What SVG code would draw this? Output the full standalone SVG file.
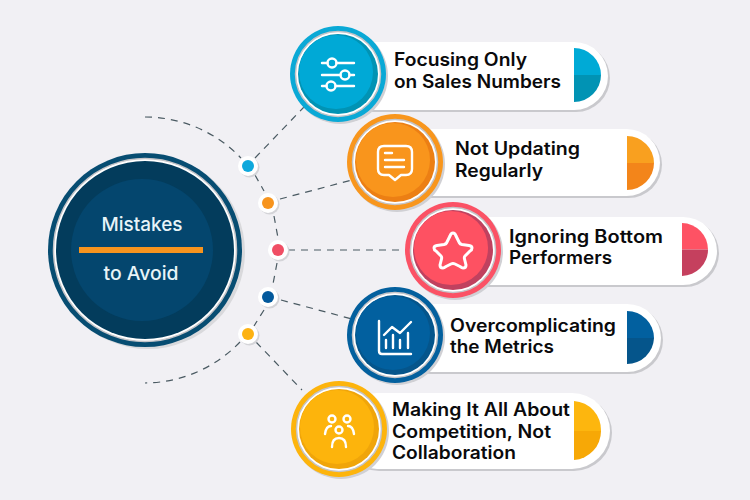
<svg xmlns="http://www.w3.org/2000/svg" width="750" height="500" viewBox="0 0 750 500">
<style>
.bg{fill:#f1f0f4}
.sh{fill:#c9c9cd}
.pill{fill:#fff}
.ring{fill:#fff;stroke:#c4c4c8;stroke-width:1.500}
.t{font-family:Inter,"Liberation Sans",sans-serif;font-weight:600;font-size:18px;fill:#0a0a0c}
.c{font-family:Inter,"Liberation Sans",sans-serif;font-weight:500;font-size:19px;fill:#e8f4f8;text-anchor:middle}
.d{fill:none;stroke:#4a5a62;stroke-width:1.200;stroke-dasharray:7 6}
.i{fill:none;stroke:#fff;stroke-width:2.400;stroke-linecap:round;stroke-linejoin:round}
.dot{fill:#fff}
.dsh{fill:#d4d4d8}
</style>
<rect class="bg" width="750" height="500"/>
<g id="connectors">
<path class="d" d="M145 117A133 133 0 0 1 241 158"/>
<path class="d" d="M255 175L264 191"/>
<path class="d" d="M274 216L278 238"/>
<path class="d" d="M277 263L273 284"/>
<path class="d" d="M264 310L254 326"/>
<path class="d" d="M240 342A133 133 0 0 1 145 383"/>
<path class="d" d="M255 158L304 107"/>
<path class="d" d="M280 199L352 180"/>
<path class="d" d="M288 250L407 250"/>
<path class="d" d="M281 300L352 319"/>
<path class="d" d="M256 342L302 390"/>
<circle class="dsh" cx="249.500" cy="167.500" r="10"/><circle class="dot" cx="248" cy="166" r="10"/><circle cx="248" cy="166" r="6" fill="#0ea8dc"/>
<circle class="dsh" cx="269.500" cy="204.500" r="10"/><circle class="dot" cx="268" cy="203" r="10"/><circle cx="268" cy="203" r="6" fill="#f7941e"/>
<circle class="dsh" cx="279.500" cy="251.500" r="10"/><circle class="dot" cx="278" cy="250" r="10"/><circle cx="278" cy="250" r="6" fill="#f04e64"/>
<circle class="dsh" cx="269.500" cy="298.500" r="10"/><circle class="dot" cx="268" cy="297" r="10"/><circle cx="268" cy="297" r="6" fill="#03599c"/>
<circle class="dsh" cx="249.500" cy="335.500" r="10"/><circle class="dot" cx="248" cy="334" r="10"/><circle cx="248" cy="334" r="6" fill="#fdb212"/>
</g>
<g id="center">
<circle cx="148" cy="252" r="97" fill="#d9d9dc"/>
<circle cx="145" cy="250" r="97" fill="#074d72"/>
<circle cx="145" cy="250" r="91.500" fill="#fff" stroke="#c4c4c8" stroke-width="1.500"/>
<circle cx="145" cy="250" r="89" fill="#033c5c"/>
<circle cx="142" cy="250" r="71" fill="#04466e"/>
<rect x="79" y="247" width="124" height="6" fill="#f7941e"/>
<text class="c" x="142" y="231" textLength="81" lengthAdjust="spacingAndGlyphs">Mistakes</text>
<text class="c" x="141" y="280" textLength="75" lengthAdjust="spacingAndGlyphs">to Avoid</text>
</g>
<g id="node-1">
<rect class="sh" x="340" y="44" width="270" height="68" rx="34"/>
<rect class="pill" x="338" y="42" width="270" height="68" rx="34"/>
<path d="M574 48A27 27 0 0 1 601 75H574Z" fill="#00aad6"/>
<path d="M574 102A27 27 0 0 0 601 75H574Z" fill="#0193b4"/>
<circle cx="340" cy="76" r="48" fill="#d0d0d4"/>
<circle cx="338" cy="74" r="48" fill="#0aa9d6"/>
<circle class="ring" cx="338" cy="74" r="42.500"/>
<circle cx="338" cy="74" r="40" fill="#0193b4"/>
<circle cx="336" cy="72" r="37" fill="#00a9d6"/>
<path class="i" d="M322 63H327.500M336.500 63H354M322 75H340.500M349.500 75H354M322 86H326.500M335.500 86H354"/>
<circle class="i" cx="332" cy="63" r="4.500"/><circle class="i" cx="345" cy="75" r="4.500"/><circle class="i" cx="331" cy="86" r="4.500"/>
<text class="t" x="394" y="66" textLength="133" lengthAdjust="spacingAndGlyphs">Focusing Only</text>
<text class="t" x="394" y="88" textLength="167" lengthAdjust="spacingAndGlyphs">on Sales Numbers</text>
</g>
<g id="node-2">
<rect class="sh" x="397" y="131" width="265" height="67" rx="33.500"/>
<rect class="pill" x="395" y="129" width="265" height="67" rx="33.500"/>
<path d="M627 136A27 27 0 0 1 654 163H627Z" fill="#f9a01f"/>
<path d="M627 190A27 27 0 0 0 654 163H627Z" fill="#f3851a"/>
<circle cx="397" cy="164" r="48" fill="#d0d0d4"/>
<circle cx="395" cy="162" r="48" fill="#f8961d"/>
<circle class="ring" cx="395" cy="162" r="42.500"/>
<circle cx="395" cy="162" r="40" fill="#ec7f14"/>
<circle cx="393" cy="160" r="37" fill="#f9951c"/>
<path class="i" d="M384 146H406Q412 146 412 152V169Q412 175 406 175H401L395 180L389 175H384Q378 175 378 169V152Q378 146 384 146Z"/>
<path class="i" d="M385 153H392M385 160H404M385 167H404"/>
<text class="t" x="455" y="155" textLength="125" lengthAdjust="spacingAndGlyphs">Not Updating</text>
<text class="t" x="455" y="177" textLength="88" lengthAdjust="spacingAndGlyphs">Regularly</text>
</g>
<g id="node-3">
<rect class="sh" x="455" y="219" width="264" height="68" rx="34"/>
<rect class="pill" x="453" y="217" width="264" height="68" rx="34"/>
<path d="M682 223A26.500 26.500 0 0 1 708 249.500H682Z" fill="#fe5264"/>
<path d="M682 276A26.500 26.500 0 0 0 708 249.500H682Z" fill="#c5405e"/>
<circle cx="455" cy="252" r="48" fill="#d0d0d4"/>
<circle cx="453" cy="250" r="48" fill="#fb5265"/>
<circle class="ring" cx="453" cy="250" r="42.500"/>
<circle cx="453" cy="250" r="40" fill="#c0415f"/>
<circle cx="451" cy="248" r="37" fill="#fe5162"/>
<path class="i" style="stroke-width:3" d="M453 233Q455 233 456 236L459.500 243Q460 244 462 244.500L469 245.500Q472 246 472 248Q472 250 470 251L465 256Q464 257 464.500 259L466 265Q466 268 463 268Q462 268 460 266.500L455 264Q453 263 451 264L446 266.500Q444 268 443 268Q440 268 440 265L441.500 259Q442 257 441 256L436 251Q434 250 434 248Q434 246 437 245.500L444 244.500Q446 244 446.500 243L450 236Q451 233 453 233Z"/>
<text class="t" x="509" y="243" textLength="154" lengthAdjust="spacingAndGlyphs">Ignoring Bottom</text>
<text class="t" x="509" y="264" textLength="103" lengthAdjust="spacingAndGlyphs">Performers</text>
</g>
<g id="node-4">
<rect class="sh" x="397" y="306" width="266" height="68" rx="34"/>
<rect class="pill" x="395" y="304" width="266" height="68" rx="34"/>
<path d="M627 311A27 27 0 0 1 654 338H627Z" fill="#02609f"/>
<path d="M627 364A27 27 0 0 0 654 338H627Z" fill="#05558b"/>
<circle cx="397" cy="337" r="48" fill="#d0d0d4"/>
<circle cx="395" cy="335" r="48" fill="#03609e"/>
<circle class="ring" cx="395" cy="335" r="42.500"/>
<circle cx="395" cy="335" r="40" fill="#05558b"/>
<circle cx="393" cy="333" r="37" fill="#02609f"/>
<path class="i" d="M379 321V351Q379 354 382 354H411"/>
<path class="i" d="M384 335L392 327L400 333L411 322M386 348V340M393 348V335M400 348V340M408 348V333"/>
<text class="t" x="450" y="332" textLength="166" lengthAdjust="spacingAndGlyphs">Overcomplicating</text>
<text class="t" x="450" y="353" textLength="104" lengthAdjust="spacingAndGlyphs">the Metrics</text>
</g>
<g id="node-5">
<rect class="sh" x="341" y="395" width="271" height="76" rx="38"/>
<rect class="pill" x="339" y="393" width="271" height="76" rx="38"/>
<path d="M574 401A29 29 0 0 1 601 431H574Z" fill="#fdb60e"/>
<path d="M574 460A29 29 0 0 0 601 431H574Z" fill="#f7a806"/>
<circle cx="341" cy="431" r="48" fill="#d0d0d4"/>
<circle cx="339" cy="429" r="48" fill="#fdb40c"/>
<circle class="ring" cx="339" cy="429" r="42.500"/>
<circle cx="339" cy="429" r="40" fill="#f0a50a"/>
<circle cx="337" cy="427" r="37" fill="#fdb40c"/>
<circle class="i" cx="332" cy="419" r="3.500"/><circle class="i" cx="347" cy="419" r="3.500"/><circle class="i" cx="339" cy="430" r="3.500"/>
<path class="i" d="M325 434Q326 426 331 426M354 434Q353 426 348 426M332 447Q332 438 339 438Q346 438 346 447"/>
<text class="t" x="392" y="416" textLength="178" lengthAdjust="spacingAndGlyphs">Making It All About</text>
<text class="t" x="392" y="438" textLength="159" lengthAdjust="spacingAndGlyphs">Competition, Not</text>
<text class="t" x="392" y="459" textLength="124" lengthAdjust="spacingAndGlyphs">Collaboration</text>
</g>
</svg>
